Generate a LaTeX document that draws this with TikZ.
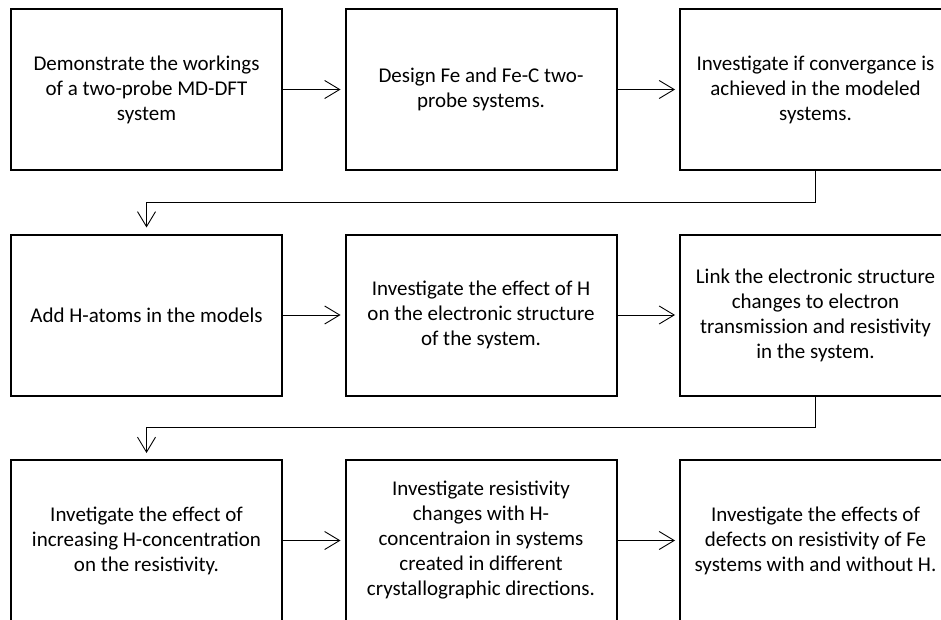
\documentclass[tikz,border=0pt]{standalone}
\usepackage{fontspec}
\setmainfont{Carlito}
\usepackage{tikz}
\usetikzlibrary{arrows.meta}

\tikzset{
  stepbox/.style={draw, line width=2pt, minimum width=271pt, minimum height=161pt,
    inner sep=0pt, align=center, font=\fontsize{21}{25}\selectfont},
  flow/.style={-{Straight Barb[length=15pt,width=18pt]}, line width=0.9pt, shorten >=4pt}
}

\begin{document}
\begin{tikzpicture}[x=1pt,y=-1pt]
    \useasboundingbox (0,0) rectangle (941,620);
    \clip (0,0) rectangle (941,620);
    \foreach \r/\c/\txt in {
      1/1/{Demonstrate the workings\\of a two-probe MD-DFT\\system},
      1/2/{Design Fe and Fe-C two-\\probe systems.},
      1/3/{Investigate if convergance is\\achieved in the modeled\\systems.},
      2/1/{Add H-atoms in the models},
      2/2/{Investigate the effect of H\\on the electronic structure\\of the system.},
      2/3/{Link the electronic structure\\changes to electron\\transmission and resistivity\\in the system.},
      3/1/{Invetigate the effect of\\increasing H-concentration\\on the resistivity.},
      3/2/{Investigate resistivity\\changes with H-\\concentraion in systems\\created in different\\crystallographic directions.},
      3/3/{Investigate the effects of\\defects on resistivity of Fe\\systems with and without H.}}{
      \pgfmathsetmacro{\xc}{146.5+334.5*(\c-1)}
      \pgfmathsetmacro{\yc}{89.5+225.5*(\r-1)}
      \node[stepbox] (s\r\c) at (\xc,\yc) {\txt};}
    \foreach \r in {1,2,3}{
      \draw[flow] (s\r1) -- (s\r2);
      \draw[flow] (s\r2) -- (s\r3);}
    % row to row
    \draw[flow, shorten >=6pt] (s13.south) -- ++(0,31) -| (s21.north);
    \draw[flow, shorten >=6pt] (s23.south) -- ++(0,31) -| (s31.north);
  \end{tikzpicture}
\end{document}
